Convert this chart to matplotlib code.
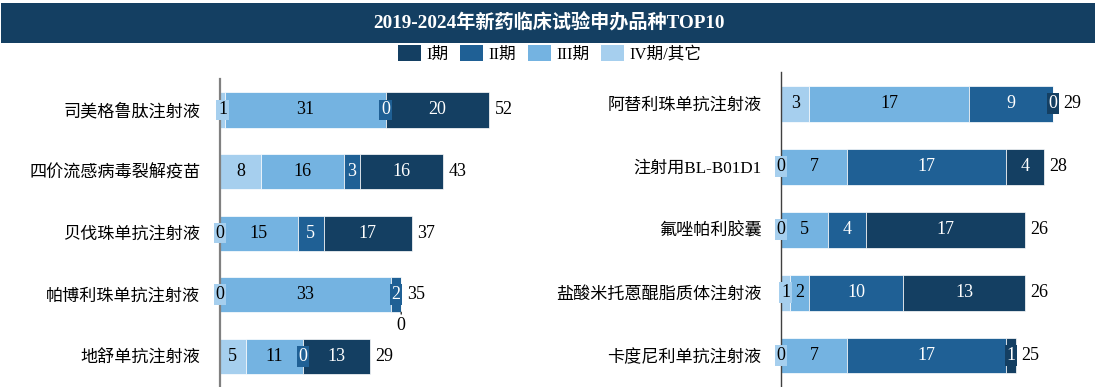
import matplotlib
matplotlib.use("Agg")
import matplotlib.pyplot as plt
from matplotlib.patches import Rectangle, Patch

plt.rcParams['font.family'] = ['Liberation Serif', 'Noto Sans CJK SC', 'DejaVu Sans']

# --- data
phases = ["I期", "II期", "III期", "IV期/其它"]
colors = ["#143f62", "#1f6095", "#74b3e1", "#a6cfee"]

left_names = ["司美格鲁肽注射液", "四价流感病毒裂解疫苗", "贝伐珠单抗注射液",
              "帕博利珠单抗注射液", "地舒单抗注射液"]
left_p1 = [20, 16, 17, 0, 13]
left_p2 = [0, 3, 5, 2, 0]
left_p3 = [31, 16, 15, 33, 11]
left_p4 = [1, 8, 0, 0, 5]

right_names = ["阿替利珠单抗注射液", "注射用BL-B01D1", "氟唑帕利胶囊",
               "盐酸米托蒽醌脂质体注射液", "卡度尼利单抗注射液"]
right_p1 = [0, 4, 17, 13, 1]
right_p2 = [9, 17, 4, 10, 17]
right_p3 = [17, 7, 5, 2, 7]
right_p4 = [3, 0, 0, 1, 0]

# labels moved under the bar (panel, row)
callouts = [("left", 3)]

W, H = 1099, 387
fig = plt.figure(figsize=(W / 100, H / 100), dpi=100)

# title band
fig.patches.append(Rectangle((1 / W, 1 - 43 / H), 1094 / W, 40 / H,
                             transform=fig.transFigure, facecolor="#143f62",
                             edgecolor="none", zorder=0))
fig.text(0.5, 1 - 23 / H, "2019-2024年新药临床试验申办品种TOP10", color="white",
         fontsize=13.8, fontweight="bold", ha="center", va="center")

handles = [Patch(facecolor=c, edgecolor="none") for c in colors]
fig.legend(handles, phases, loc="center", bbox_to_anchor=(0.5, 1 - 54 / H),
           ncol=4, frameon=False, fontsize=12, handlelength=1.4, handleheight=1.1,
           handletextpad=0.3, columnspacing=0.7, borderaxespad=0, borderpad=0)

NUM_FS = 13


def panel(rect, names, series, xmax, spine_col, spine_lw, tag):
    ax = fig.add_axes(rect)
    y = list(range(len(names)))
    left = [0] * len(names)
    stack = list(zip(series, colors))[::-1]  # IV first, then III, II, I
    for vals, col in stack:
        ax.barh(y, vals, left=left, height=0.57, color=col,
                edgecolor="white", linewidth=0.5, zorder=2)
        txt_col = "white" if col in colors[:2] else "black"
        for i, v in enumerate(vals):
            xc = left[i] + v / 2
            if (tag, i) in callouts and col == colors[0]:
                ax.annotate(str(v), xy=(left[i] + v, i + 0.285),
                            xytext=(left[i] + v, i + 0.5), ha="center", va="center",
                            fontsize=NUM_FS, color="black",
                            arrowprops=dict(arrowstyle="-", lw=0.8, color="black",
                                            shrinkA=6, shrinkB=0))
                continue
            ax.text(xc, i, str(v), ha="center", va="center", fontsize=NUM_FS,
                    color=txt_col, zorder=4,
                    bbox=dict(boxstyle="square,pad=0.1", facecolor=col,
                              edgecolor="none"))
        left = [a + b for a, b in zip(left, vals)]
    for i, t in enumerate(left):
        off = 4
        if series[0][i] == 0 and (tag, i) not in callouts:
            off = 7.5  # make room for the inline zero box
        ax.annotate(str(t), xy=(t, i), xytext=(off, 0), textcoords="offset points",
                    ha="left", va="center", fontsize=NUM_FS, color="black")
    ax.set_xlim(0, xmax)
    ax.set_ylim(len(names) - 0.5, -0.5)
    ax.set_yticks(y)
    ax.set_yticklabels(names, fontsize=12.3)
    ax.tick_params(axis="y", length=0, pad=14)
    ax.set_xticks([])
    for s in ["top", "right", "bottom"]:
        ax.spines[s].set_visible(False)
    ax.spines["left"].set_color(spine_col)
    ax.spines["left"].set_linewidth(spine_lw)
    ax.patch.set_alpha(0)
    return ax


panel([219.9 / W, 0.0, 310.8 / W, (387 - 79.2) / H], left_names,
      [left_p1, left_p2, left_p3, left_p4], 60, "#808080", 1.6, "left")
panel([781.1 / W, 0.0, 309.5 / W, (387 - 72.3) / H], right_names,
      [right_p1, right_p2, right_p3, right_p4], 33, "#404040", 1.0, "right")

fig.savefig("out.png", dpi=100)
